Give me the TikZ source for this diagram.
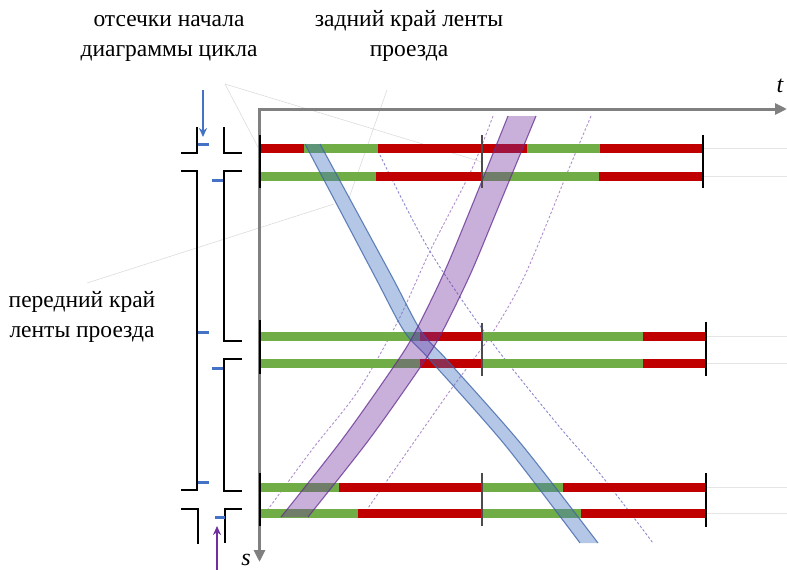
\documentclass[tikz,border=0pt]{standalone}
\usepackage{fontspec}
\setmainfont{Liberation Serif}
\usetikzlibrary{arrows.meta}
\definecolor{barred}{HTML}{C00000}
\definecolor{bargreen}{HTML}{70AD47}
\definecolor{axgray}{HTML}{808080}
\definecolor{bandblue}{HTML}{4472C4}
\definecolor{bandpurple}{HTML}{7030A0}
\definecolor{calloutgray}{HTML}{DCDCDC}
\begin{document}
\begin{tikzpicture}[x=1pt,y=-1pt,
  lbl/.style={font=\fontsize{23.5}{30}\selectfont, inner sep=0pt, anchor=base},
  axislbl/.style={font=\fontsize{24}{28}\selectfont\itshape, inner sep=0pt},
  axisline/.style={axgray, line width=3pt},
  bar/.style={line width=9pt},
  extline/.style={black!10, line width=0.8pt},
  endtick/.style={black, line width=2.6pt},
  midtick/.style={black!70, line width=1.8pt},
  wall/.style={black, line width=2.3pt, line join=miter},
  cutmark/.style={bandblue, line width=3pt},
  callout/.style={calloutgray, line width=0.6pt},
  pdash/.style={bandpurple!55, line width=0.9pt, dash pattern=on 2.5pt off 2pt},
  bdash/.style={bandblue!60!bandpurple!70, line width=0.9pt, dash pattern=on 2.5pt off 2pt},
  bfill/.style={bandblue, fill opacity=0.4},
  pfill/.style={bandpurple, fill opacity=0.38},
  bedge/.style={bandblue!85!black, line width=1.1pt, opacity=0.75},
  pedge/.style={bandpurple!90!black, line width=1.1pt, opacity=0.75}
]
\useasboundingbox (0,0) rectangle (787,570);

% ---------- labels ----------
\node[lbl] (lblA1) at (169,26) {отсечки начала};
\node[lbl] (lblA2) at (169,56) {диаграммы цикла};
\node[lbl] (lblB1) at (409,26) {задний край ленты};
\node[lbl] (lblB2) at (409,56) {проезда};
\node[lbl] (lblC1) at (82,307) {передний край};
\node[lbl] (lblC2) at (82,337) {ленты проезда};
\node[axislbl] (tlbl) at (780,86) {t};
\node[axislbl] (slbl) at (246,560) {s};

% ---------- callout lines ----------
\coordinate (cA) at (225,84);
\coordinate (cA1) at (482,162);
\coordinate (cA2) at (259,149);
\coordinate (cB) at (387,90);
\coordinate (cB1) at (349,198);
\coordinate (cC) at (87,283);
\coordinate (cC1) at (334,204);
\draw[callout] (cA) -- (cA1);
\draw[callout] (cA) -- (cA2);
\draw[callout] (cB) -- (cB1);
\draw[callout] (cC) -- (cC1);

% ---------- axes ----------
\coordinate (tend) at (787,109);
\coordinate (origin) at (259.5,109);
\coordinate (send) at (259.5,562);
\draw[axisline, {Triangle[length=12pt,width=11pt]}-{Triangle[length=12pt,width=11pt]}] (tend) -- (origin) -- (send);

% ---------- left schematic ----------
\draw[wall] (197,127) -- (197,153) -- (181,153);
\draw[wall] (181,171) -- (197,171) -- (197,490) -- (181,490);
\draw[wall] (181,509) -- (198,509) -- (198,544);
\draw[wall] (224,127) -- (224,153) -- (242,153);
\draw[wall] (242,171) -- (224,171) -- (224,341) -- (242,341);
\draw[wall] (242,359) -- (224,359) -- (224,491) -- (242,491);
\draw[wall] (242,509) -- (225,509) -- (225,543);
\foreach \yy in {144,332,482} \draw[cutmark] (198,\yy) -- (209,\yy);
\foreach \yy in {180,368} \draw[cutmark] (212,\yy) -- (223,\yy);
\draw[cutmark] (215,517) -- (225,517);
\coordinate (bArrS) at (203,90);
\coordinate (bArrE) at (203,137);
\draw[bandblue, line width=2.2pt, -{Stealth[length=9pt,width=8pt]}] (bArrS) -- (bArrE);
\coordinate (pArrS) at (217,570);
\coordinate (pArrE) at (217,526);
\draw[bandpurple, line width=2.2pt, -{Stealth[length=9pt,width=8pt]}] (pArrS) -- (pArrE);

% ---------- dashed guide lines ----------
\draw[pdash] plot[smooth] coordinates {(493,116) (471,171) (430,251) (398,321) (358,391) (311,451) (261,519)};
\draw[pdash] plot[smooth] coordinates {(591,116) (568,171) (525,275) (491,335) (447,395) (368,508)};
\draw[bdash] plot[smooth] coordinates {(378,151) (428,248) (491,341) (558,425) (601,475) (653,543)};

% ---------- light extension lines ----------
\foreach \yy in {148,176} \draw[extline] (703,\yy) -- (787,\yy);
\foreach \yy in {336,363,487,513} \draw[extline] (706,\yy) -- (787,\yy);

% ---------- bars ----------
\foreach \a/\b/\c in {260/304/barred,304/378/bargreen,378/527/barred,527/600/bargreen,600/703/barred}
  \draw[bar,\c] (\a,148) -- (\b,148);
\foreach \a/\b/\c in {260/376/bargreen,376/482/barred,482/599/bargreen,599/703/barred}
  \draw[bar,\c] (\a,176) -- (\b,176);
\foreach \yy in {336,363}
  \foreach \a/\b/\c in {260/420/bargreen,420/482/barred,482/643/bargreen,643/706/barred}
    \draw[bar,\c] (\a,\yy) -- (\b,\yy);
\foreach \a/\b/\c in {260/339/bargreen,339/482/barred,482/563/bargreen,563/706/barred}
  \draw[bar,\c] (\a,487) -- (\b,487);
\foreach \a/\b/\c in {260/358/bargreen,358/482/barred,482/581/bargreen,581/706/barred}
  \draw[bar,\c] (\a,513) -- (\b,513);

% ---------- bands ----------
\fill[bfill] plot[smooth, tension=0.5] coordinates {(305,144) (373,273) (404,331) (430,360) (505,445) (580,543)}
  -- plot[smooth, tension=0.5] coordinates {(598,543) (522,445) (447,360) (421,331) (390,273) (320,144)} -- cycle;
\draw[bedge] plot[smooth, tension=0.5] coordinates {(305,144) (373,273) (404,331) (430,360) (505,445) (580,543)};
\draw[bedge] plot[smooth, tension=0.5] coordinates {(320,144) (390,273) (421,331) (447,360) (522,445) (598,543)};

\fill[pfill] plot[smooth] coordinates {(508,116) (471,208) (443,275) (413,336) (390,372) (341,441) (281,517)}
  -- plot[smooth] coordinates {(308,517) (368,441) (417,372) (440,336) (470,275) (498,208) (536,116)} -- cycle;
\draw[pedge] plot[smooth] coordinates {(508,116) (471,208) (443,275) (413,336) (390,372) (341,441) (281,517)};
\draw[pedge] plot[smooth] coordinates {(536,116) (498,208) (470,275) (440,336) (417,372) (368,441) (308,517)};

% ---------- ticks ----------
\draw[endtick] (260,135) -- (260,188);
\draw[endtick] (260,320) -- (260,374);
\draw[endtick] (260,473) -- (260,526);
\draw[midtick] (482,135) -- (482,188);
\draw[midtick] (482,323) -- (482,376);
\draw[midtick] (482,473) -- (482,526);
\draw[endtick] (703,135) -- (703,188);
\draw[endtick] (706,322) -- (706,376);
\draw[endtick] (706,473) -- (706,527);
\end{tikzpicture}
\end{document}
